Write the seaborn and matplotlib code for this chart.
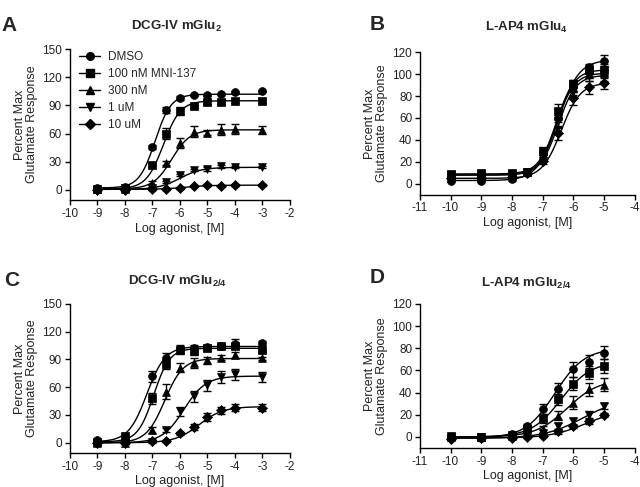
import numpy as np
import pandas as pd
import matplotlib
matplotlib.use("Agg")
import matplotlib.pyplot as plt
from matplotlib.lines import Line2D
import seaborn as sns

# ---------------- data ----------------
series_names = ["DMSO", "100 nM MNI-137", "300 nM", "1 uM", "10 uM"]
markers = ["o", "s", "^", "v", "D"]

x_dcg = [-9, -8, -7, -6.5, -6, -5.5, -5, -4.5, -4, -3]
x_lap = [-10, -9, -8, -7.5, -7, -6.5, -6, -5.5, -5]

# Panel A: DCG-IV mGlu2
a_dmso = [2, 3, 46, 85, 98, 101, 101, 102, 104, 105]
a_100 = [1, 2, 27, 60, 84, 89, 94, 94, 95, 95]
a_300 = [1, 1, 7, 29, 50, 62, 61, 64, 65, 64]
a_1u = [0, 1, 2, 8, 16, 21, 22, 25, 24, 24]
a_10u = [0, 0, 1, 1, 2, 4, 5, 4, 5, 5]
a_err_dmso = [1, 1, 2, 3, 2, 1, 1, 1, 1, 1]
a_err_100 = [1, 1, 2, 6, 4, 2, 2, 2, 2, 2]
a_err_300 = [1, 1, 2, 2, 5, 6, 3, 6, 5, 4]
a_err_1u = [1, 1, 1, 1, 1, 1, 2, 2, 1, 1]
a_err_10u = [1, 1, 1, 1, 1, 1, 1, 1, 1, 1]
# fitted curve parameters (bottom, top, logEC50, hill)
a_fit = [(2, 102, -6.9, 1.5), (1, 95, -6.6, 1.4), (1, 64, -6.3, 1.3),
         (0.5, 24, -6.0, 1.1), (0.5, 5, -5.8, 1.0)]

# Panel B: L-AP4 mGlu4
b_dmso = [3, 3, 4, 10, 28, 60, 90, 106, 112]
b_100 = [9, 10, 10, 11, 30, 66, 91, 104, 104]
b_300 = [8, 9, 9, 11, 27, 62, 88, 100, 101]
b_1u = [8, 8, 8, 11, 25, 57, 85, 98, 99]
b_10u = [5, 5, 6, 10, 21, 46, 78, 88, 92]
b_err_dmso = [1, 1, 1, 2, 4, 7, 5, 3, 5]
b_err_100 = [1, 1, 1, 2, 4, 7, 4, 4, 5]
b_err_300 = [1, 1, 1, 2, 4, 6, 4, 4, 5]
b_err_1u = [1, 1, 1, 2, 4, 6, 4, 4, 5]
b_err_10u = [1, 1, 1, 2, 3, 6, 6, 6, 6]
b_fit = [(3, 113, -6.5, 1.3), (9, 104, -6.55, 1.5), (8, 101, -6.55, 1.5),
         (8, 99, -6.5, 1.5), (5, 92, -6.4, 1.4)]

# Panel C: DCG-IV mGlu2/4
c_dmso = [3, 2, 72, 92, 101, 102, 103, 104, 107, 108]
c_100 = [1, 7, 48, 85, 100, 99, 102, 104, 105, 100]
c_300 = [0, 0, 14, 55, 81, 86, 89, 92, 95, 91]
c_1u = [0, 0, 1, 14, 34, 50, 62, 71, 74, 71]
c_10u = [0, 0, 2, 2, 10, 17, 28, 35, 38, 38]
c_err_dmso = [1, 1, 6, 5, 5, 4, 3, 3, 5, 2]
c_err_100 = [1, 1, 6, 5, 3, 4, 3, 2, 2, 2]
c_err_300 = [1, 1, 3, 8, 5, 5, 4, 3, 3, 2]
c_err_1u = [1, 1, 1, 2, 5, 6, 6, 7, 6, 5]
c_err_10u = [1, 1, 1, 1, 2, 3, 4, 4, 4, 4]
c_fit = [(1, 104, -7.2, 1.3), (1, 102, -6.95, 1.5), (0, 91, -6.55, 1.3),
         (0, 72, -5.85, 1.1), (0, 39, -5.3, 1.0)]

# Panel D: L-AP4 mGlu2/4
d_dmso = [-1, -1, 3, 10, 25, 43, 61, 68, 76]
d_100 = [1, 0, 2, 7, 17, 34, 48, 58, 64]
d_300 = [0, 0, 1, 4, 7, 19, 31, 43, 47]
d_1u = [-1, 0, 0, 2, 4, 10, 14, 20, 28]
d_10u = [-2, -1, -1, 0, 1, 5, 10, 14, 20]
d_err_dmso = [1, 1, 1, 2, 5, 6, 7, 6, 6]
d_err_100 = [1, 1, 1, 2, 4, 5, 6, 6, 6]
d_err_300 = [1, 1, 1, 2, 3, 4, 6, 6, 6]
d_err_1u = [1, 1, 1, 1, 2, 3, 3, 3, 3]
d_err_10u = [1, 1, 1, 1, 1, 2, 2, 2, 2]
d_fit = [(-1, 80, -6.6, 0.9), (0, 68, -6.4, 0.9), (0, 52, -6.2, 0.85),
         (-1, 35, -5.7, 0.7), (-1, 25, -5.6, 0.75)]

yticks_dcg = [0, 30, 60, 90, 120, 150]
yticks_lap = [0, 20, 40, 60, 80, 100, 120]
xticks_dcg = [-10, -9, -8, -7, -6, -5, -4, -3, -2]
xticks_lap = [-11, -10, -9, -8, -7, -6, -5, -4]

# ---------------- style ----------------
sns.set_theme(style="ticks")
plt.rcParams["font.family"] = ["Liberation Sans", "DejaVu Sans"]
plt.rcParams["mathtext.fontset"] = "custom"
plt.rcParams["mathtext.rm"] = "Liberation Sans"
plt.rcParams["mathtext.bf"] = "Liberation Sans:bold"
plt.rcParams["xtick.direction"] = "out"
plt.rcParams["ytick.direction"] = "out"

fig = plt.figure(figsize=(6.4, 4.87), dpi=100)

panels = [
    dict(letter="A", title=r"DCG-IV mGlu$_{\mathbf{2}}$", x=x_dcg,
         ys=[a_dmso, a_100, a_300, a_1u, a_10u],
         es=[a_err_dmso, a_err_100, a_err_300, a_err_1u, a_err_10u],
         fit=a_fit, xlim=(-10, -2), ylim=(-11, 150), yt=yticks_dcg, xt=xticks_dcg,
         rect=[0.109, 0.589, 0.344, 0.310], legend=True,
         title_xy=(0.275, 0.945), letter_xy=(0.003, 0.947)),
    dict(letter="B", title=r"L-AP4 mGlu$_{\mathbf{4}}$", x=x_lap,
         ys=[b_dmso, b_100, b_300, b_1u, b_10u],
         es=[b_err_dmso, b_err_100, b_err_300, b_err_1u, b_err_10u],
         fit=b_fit, xlim=(-11, -4), ylim=(-10, 120), yt=yticks_lap, xt=xticks_lap,
         rect=[0.656, 0.600, 0.336, 0.293], legend=False,
         title_xy=(0.823, 0.943), letter_xy=(0.578, 0.950)),
    dict(letter="C", title=r"DCG-IV mGlu$_{\mathbf{2/4}}$", x=x_dcg,
         ys=[c_dmso, c_100, c_300, c_1u, c_10u],
         es=[c_err_dmso, c_err_100, c_err_300, c_err_1u, c_err_10u],
         fit=c_fit, xlim=(-10, -2), ylim=(-11, 150), yt=yticks_dcg, xt=xticks_dcg,
         rect=[0.109, 0.070, 0.344, 0.306], legend=False,
         title_xy=(0.277, 0.423), letter_xy=(0.006, 0.425)),
    dict(letter="D", title=r"L-AP4 mGlu$_{\mathbf{2/4}}$", x=x_lap,
         ys=[d_dmso, d_100, d_300, d_1u, d_10u],
         es=[d_err_dmso, d_err_100, d_err_300, d_err_1u, d_err_10u],
         fit=d_fit, xlim=(-11, -4), ylim=(-10, 120), yt=yticks_lap, xt=xticks_lap,
         rect=[0.656, 0.080, 0.336, 0.296], legend=False,
         title_xy=(0.823, 0.418), letter_xy=(0.578, 0.430)),
]


def logistic(xv, bottom, top, logec50, hill):
    return bottom + (top - bottom) / (1 + 10 ** ((logec50 - xv) * hill))


for p in panels:
    ax = fig.add_axes(p["rect"])
    xs = np.array(p["x"], dtype=float)
    xfine = np.linspace(xs.min(), xs.max(), 200)
    for i in range(len(series_names)):
        params = p["fit"][i]
        curve = pd.DataFrame({"x": xfine, "y": logistic(xfine, *params)})
        sns.lineplot(data=curve, x="x", y="y", ax=ax, color="black", lw=1.0,
                     legend=False, zorder=2)
        ax.errorbar(xs, p["ys"][i], yerr=p["es"][i], fmt="none", ecolor="black",
                    elinewidth=1.0, capsize=3, capthick=1.0, zorder=3)
        pts = pd.DataFrame({"x": xs, "y": p["ys"][i]})
        sns.scatterplot(data=pts, x="x", y="y", ax=ax, marker=markers[i],
                        color="black", edgecolor="black",
                        s=32 if markers[i] != "D" else 26,
                        linewidth=0.5, legend=False, zorder=4)
    ax.set_xlim(*p["xlim"])
    ax.set_ylim(*p["ylim"])
    ax.set_xticks(p["xt"])
    ax.set_yticks(p["yt"])
    ax.set_xticklabels([str(v) for v in p["xt"]])
    ax.set_yticklabels([str(v) for v in p["yt"]])
    ax.tick_params(axis="both", labelsize=8.5, length=3.5, width=1, pad=2,
                   colors="black", labelcolor="#222222")
    for s in ["top", "right"]:
        ax.spines[s].set_visible(False)
    for s in ["left", "bottom"]:
        ax.spines[s].set_linewidth(1.0)
        ax.spines[s].set_color("black")
    ax.set_xlabel("Log agonist, [M]", fontsize=9, labelpad=2, color="#222222")
    ax.set_ylabel("Percent Max\nGlutamate Response", fontsize=9, labelpad=3,
                  color="#222222", linespacing=1.0)
    ax.grid(False)
    fig.text(p["title_xy"][0], p["title_xy"][1], p["title"], ha="center", va="center",
             fontsize=9.5, fontweight="bold")
    fig.text(p["letter_xy"][0], p["letter_xy"][1], p["letter"], ha="left", va="center",
             fontsize=15, fontweight="bold")
    if p["legend"]:
        handles = [Line2D([0], [0], color="black", lw=1.0, marker=m, markersize=5.5,
                          markerfacecolor="black", markeredgecolor="black")
                   for m in markers]
        ax.legend(handles, series_names, loc="upper left", frameon=False,
                  fontsize=8.5, handlelength=1.8, handletextpad=0.7, labelspacing=0.42,
                  borderaxespad=0.0, bbox_to_anchor=(0.02, 1.02))

fig.savefig("out.png", dpi=100)
